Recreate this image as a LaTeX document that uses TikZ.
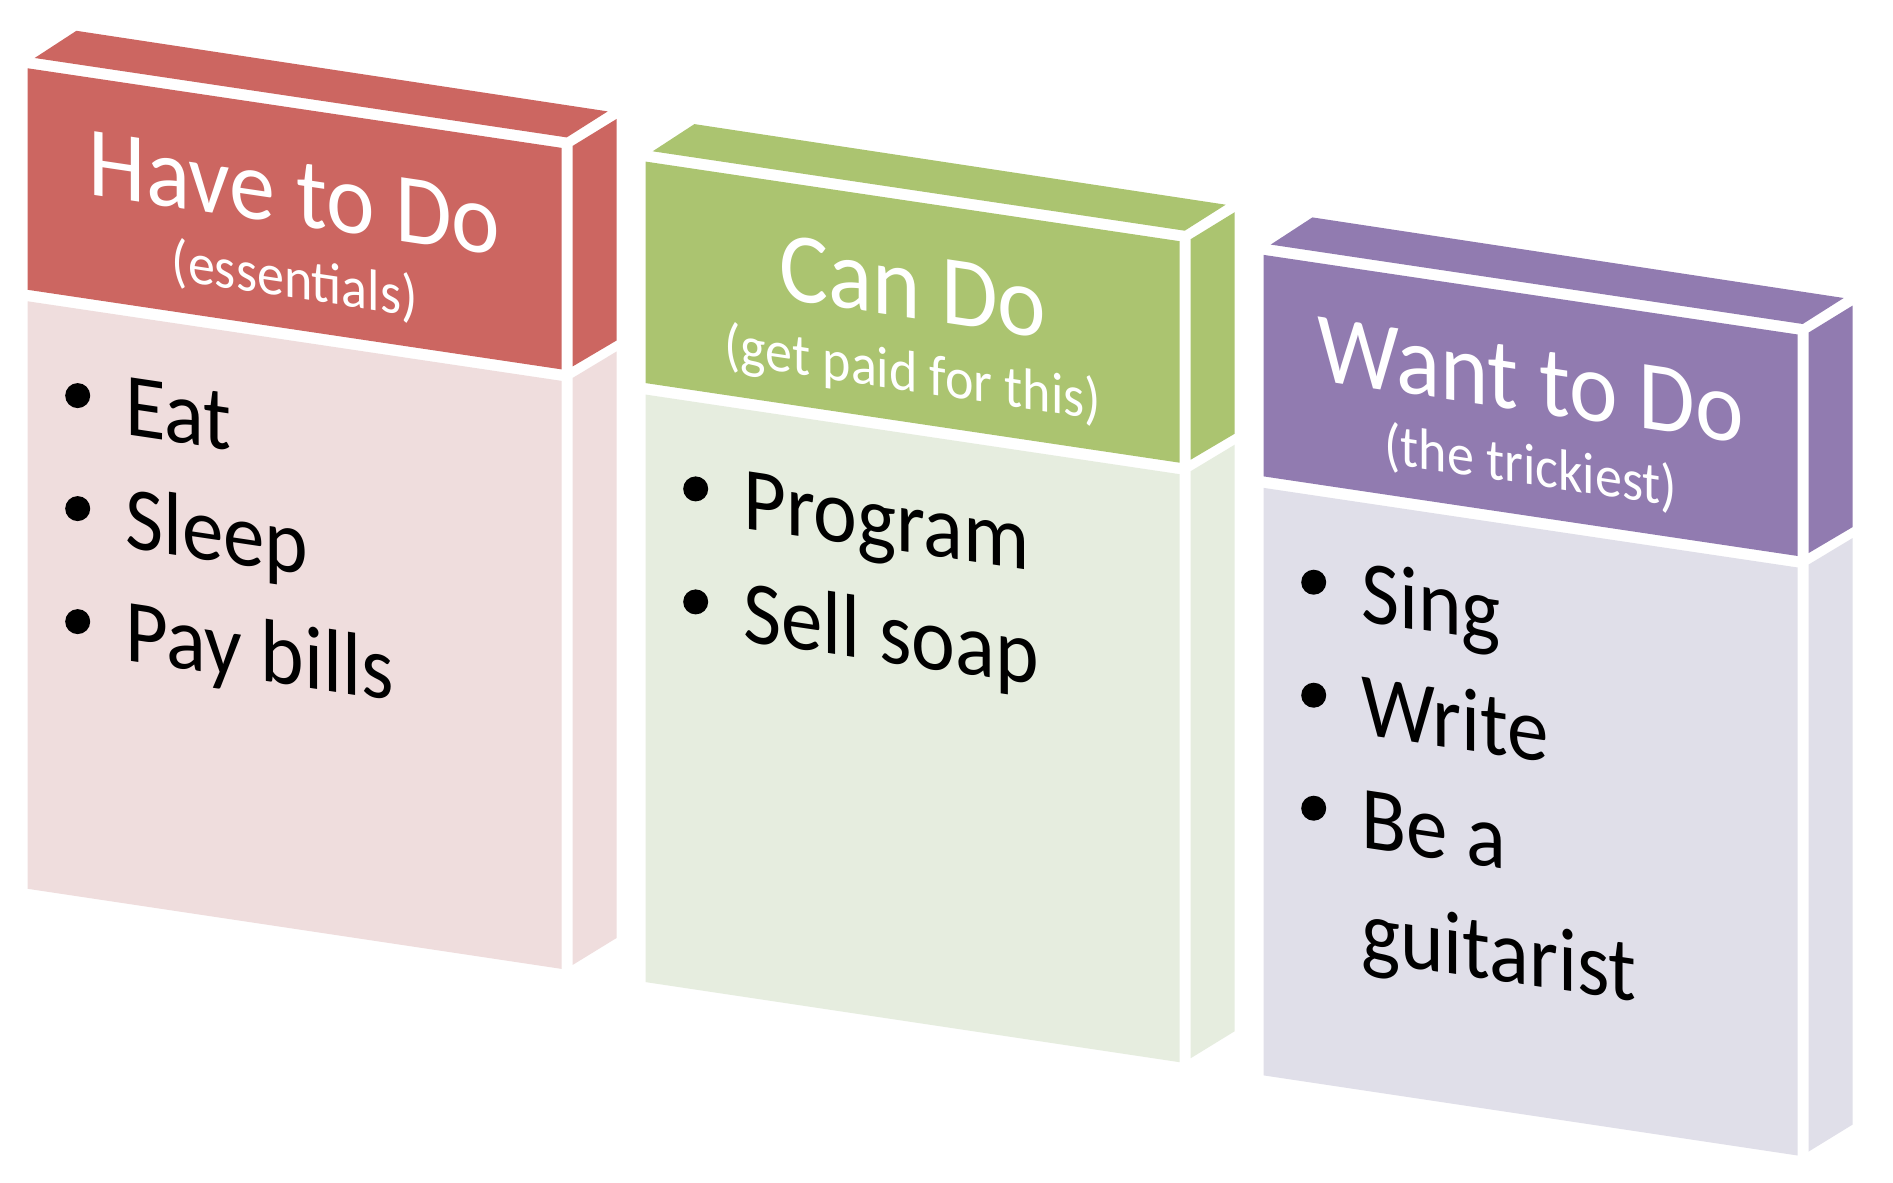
\documentclass[tikz,border=0pt]{standalone}
\usepackage{fontspec}
\setmainfont{Carlito}
\definecolor{redhead}{RGB}{204,102,97}
\definecolor{redbody}{RGB}{239,221,221}
\definecolor{greenhead}{RGB}{171,196,112}
\definecolor{greenbody}{RGB}{230,237,223}
\definecolor{purplehead}{RGB}{145,123,176}
\definecolor{purplebody}{RGB}{224,223,233}
\tikzset{
  boxtitle/.style={anchor=base, inner sep=0pt, text=white, font=\fontsize{46}{55}\selectfont, yslant=-0.149, yscale=1.08},
  boxsub/.style={anchor=base, inner sep=0pt, text=white, font=\fontsize{27}{32}\selectfont, yslant=-0.149, yscale=1.08},
  boxitem/.style={anchor=base west, inner sep=0pt, text=black, font=\fontsize{41.5}{49}\selectfont, yslant=-0.149, yscale=1.08},
  dot/.style={fill=black}
}
\newcommand{\mkbox}[7]{%
  \begin{scope}[shift={(#2,#3)}]
    \fill[#4] (7,-10.3) -- (48.7,-37.5) -- (580,43.1) -- (539,69.1) -- cycle;
    \fill[#4] (0,0) -- (534,79.6) -- (534,301.1) -- (0,221.5) -- cycle;
    \fill[#5] (0,233) -- (534,312.6) -- (534,900.6) -- (0,820.5) -- cycle;
    \fill[#4] (545,77.6) -- (589,50.6) -- (589,272.1) -- (545,298.1) -- cycle;
    \fill[#5] (545,309.6) -- (589,283.1) -- (589,869.6) -- (545,896.6) -- cycle;
    \node[boxtitle] (#1t) at (267,157) {#6};
    \node[boxsub] (#1s) at (267,230) {#7};
  \end{scope}}
\newcommand{\mkitem}[6]{%
  \begin{scope}[shift={(#2,#3)}]
    \ifnum#6=1 \fill[dot] (50,{327.3+113*#4}) circle (6.25pt);\fi
    \node[boxitem] (#1) at (97,{366.4+113*#4}) {#5};
  \end{scope}}
\begin{document}
\begin{tikzpicture}[x=0.5pt,y=-0.5pt]
\fill[white] (0,0) rectangle (1893,1182);
\useasboundingbox (0,0) rectangle (1893,1182);
\mkbox{a}{27.7}{68.3}{redhead}{redbody}{Have to Do}{(essentials)}
\mkbox{b}{645.7}{161.6}{greenhead}{greenbody}{Can Do}{(get paid for this)}
\mkbox{c}{1263.7}{254.9}{purplehead}{purplebody}{Want to Do}{(the trickiest)}
\mkitem{a1}{27.7}{68.3}{0}{Eat}{1}
\mkitem{a2}{27.7}{68.3}{1}{Sleep}{1}
\mkitem{a3}{27.7}{68.3}{2}{Pay bills}{1}
\mkitem{b1}{645.7}{161.6}{0}{Program}{1}
\mkitem{b2}{645.7}{161.6}{1}{Sell soap}{1}
\mkitem{c1}{1263.7}{254.9}{0}{Sing}{1}
\mkitem{c2}{1263.7}{254.9}{1}{Write}{1}
\mkitem{c3}{1263.7}{254.9}{2}{Be a}{1}
\mkitem{c4}{1263.7}{254.9}{3}{guitarist}{0}
\end{tikzpicture}
\end{document}
